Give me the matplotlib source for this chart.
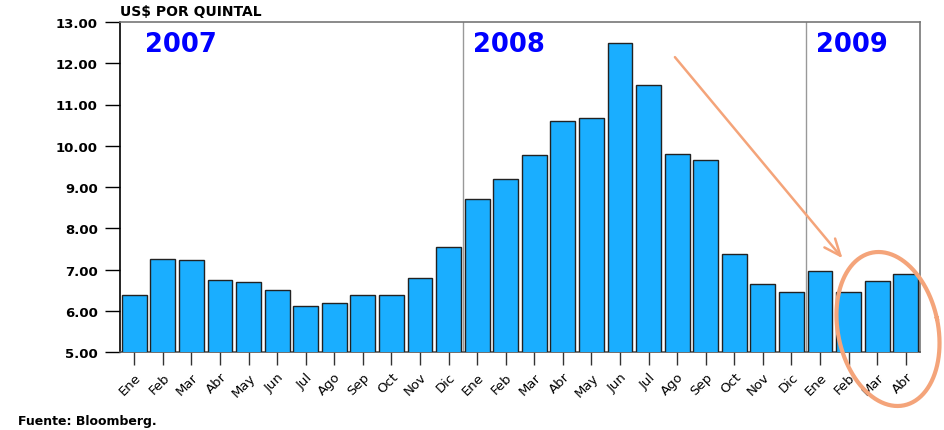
import numpy as np
import matplotlib
matplotlib.use("Agg")
import matplotlib.pyplot as plt
from matplotlib.patches import FancyArrowPatch

plt.rcParams['font.family'] = ['DejaVu Sans']

months = ["Ene", "Feb", "Mar", "Abr", "May", "Jun", "Jul", "Ago", "Sep", "Oct", "Nov", "Dic",
          "Ene", "Feb", "Mar", "Abr", "May", "Jun", "Jul", "Ago", "Sep", "Oct", "Nov", "Dic",
          "Ene", "Feb", "Mar", "Abr"]
prices = [6.38, 7.25, 7.22, 6.75, 6.69, 6.50, 6.11, 6.20, 6.38, 6.38, 6.80, 7.55,
          8.71, 9.19, 9.78, 10.60, 10.67, 12.49, 11.47, 9.80, 9.65, 7.37, 6.66, 6.45,
          6.96, 6.45, 6.71, 6.90]
years = ["2007", "2008", "2009"]
year_start = [0, 12, 24]
yticks = [5, 6, 7, 8, 9, 10, 11, 12, 13]

W, H = 944, 431
fig = plt.figure(figsize=(W / 100, H / 100), dpi=100)
ax = fig.add_axes([120 / W, 1 - 353 / H, 800 / W, 330 / H])

x = np.arange(len(prices))
ax.bar(x, prices, width=0.87, bottom=0, color="#1AAEFF", edgecolor="#222222", linewidth=1.0, zorder=3)

ax.set_xlim(-0.5, len(prices) - 0.5)
ax.set_ylim(5, 13)
ax.set_yticks(yticks)
ax.set_yticklabels([f"{v:.2f}" for v in yticks], fontsize=9.5, fontweight="bold")
ax.set_xticks(x)
ax.set_xticklabels(months, rotation=45, ha="right", rotation_mode="anchor", fontsize=9.5)
ax.tick_params(axis="x", length=9, width=1, direction="out", pad=4, colors="#333333", labelcolor="black")
ax.tick_params(axis="y", length=11, width=1, direction="out", pad=5)

ax.spines["left"].set_color("black")
ax.spines["left"].set_linewidth(1.2)
ax.spines["bottom"].set_color("#555555")
ax.spines["bottom"].set_linewidth(1.2)
for s in ["top", "right"]:
    ax.spines[s].set_color("#777777")
    ax.spines[s].set_linewidth(1.2)

for ys in year_start[1:]:
    ax.axvline(ys - 0.5, color="#999999", linewidth=1.0, zorder=2)

for lab, st in zip(years, year_start):
    ax.text(st - 0.13 if st else 0.37, 12.47, lab, color="#0000FF", fontsize=18.5,
            fontweight="bold", ha="left", va="center", zorder=4)

fig.text(120 / W, 1 - 12 / H, "US$ POR QUINTAL", fontsize=10, fontweight="bold",
         ha="left", va="center")
fig.text(18 / W, 1 - 422 / H, "Fuente: Bloomberg.", fontsize=9, fontweight="bold",
         ha="left", va="center")

# orange annotation arrow
orange = "#F4A47A"
arrow = FancyArrowPatch((18.86, 12.2), (24.85, 7.22),
                        arrowstyle="->,head_length=12,head_width=5",
                        color=orange, linewidth=1.8, mutation_scale=1, zorder=5,
                        clip_on=False)
ax.add_patch(arrow)

# orange ellipse (in pixel space)
t = np.linspace(0, 2 * np.pi, 300)
cx, cy, a, b, th = 888, 330, 50, 78, np.deg2rad(-12)
px = cx + a * np.cos(t) * np.cos(th) - b * np.sin(t) * np.sin(th)
py = cy + a * np.cos(t) * np.sin(th) + b * np.sin(t) * np.cos(th)
fig.add_artist(plt.Line2D(px / W, 1 - py / H, color=orange, linewidth=3, zorder=6))

fig.savefig("out.png", dpi=100)
